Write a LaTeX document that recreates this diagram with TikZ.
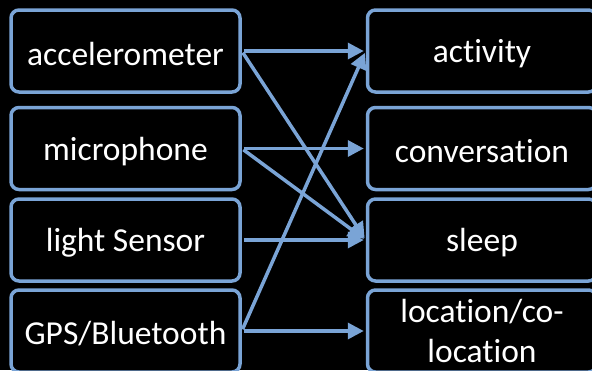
\documentclass[tikz,border=0pt]{standalone}
\usepackage{fontspec}
\setmainfont{Carlito}[Ligatures={NoCommon}]
\usetikzlibrary{arrows.meta}
\definecolor{lb}{RGB}{122,164,214}
\newcommand{\lowtext}[1]{\raisebox{-3pt}[\height][\depth]{#1}}
\begin{document}
\begin{tikzpicture}[x=1pt,y=-1pt,
  box/.style={draw=lb,line width=3.5pt,rounded corners=8pt,fill=black,text=white,
    minimum width=229pt,minimum height=82pt,inner sep=0pt,align=center,
    font=\fontsize{33.5}{40}\selectfont},
  conn/.style={draw=lb,line width=3.5pt,-{Triangle[length=16pt,width=16pt]},shorten >=2pt,shorten <=2pt}]
\fill[black] (0,0) rectangle (592,370);
\useasboundingbox (0,0) rectangle (592,370);
\node[box] (acc) at (125.5,51) {\lowtext{accelerometer}};
\node[box] (mic) at (125.5,148.5) {\lowtext{microphone}};
\node[box] (lig) at (125.5,240) {\lowtext{light Sensor}};
\node[box] (gps) at (125.5,331) {\lowtext{GPS/Bluetooth}};
\node[box] (act) at (482,51) {\lowtext{activity}};
\node[box] (con) at (482,148.5) {\lowtext{conversation}};
\node[box] (sle) at (482,240) {\lowtext{sleep}};
\node[box] (loc) at (482,331) {location/co-\\location};
\draw[conn] (acc.east) -- (act.west);
\draw[conn] (acc.east) -- (sle.west);
\draw[conn] (mic.east) -- (con.west);
\draw[conn] (mic.east) -- (sle.west);
\draw[conn] (lig.east) -- (sle.west);
\draw[conn] (gps.east) -- (loc.west);
\draw[conn] (gps.east) -- (act.west);
\end{tikzpicture}
\end{document}
